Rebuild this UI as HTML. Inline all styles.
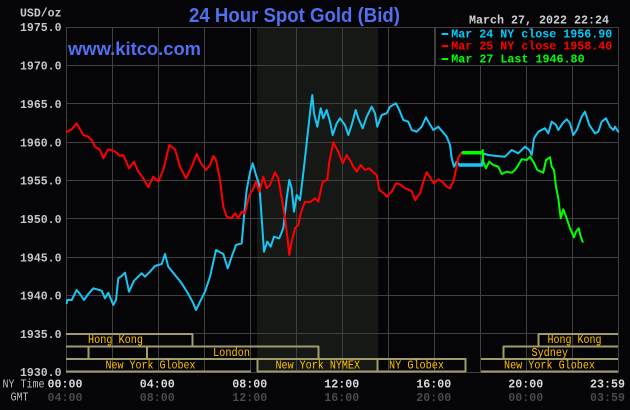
<!DOCTYPE html>
<html><head><meta charset="utf-8"><style>
html,body{margin:0;padding:0;background:#050508;}
svg{display:block;}
</style></head><body>
<svg width="630" height="410" viewBox="0 0 630 410" xmlns="http://www.w3.org/2000/svg">
<rect x="0" y="0" width="630" height="410" fill="#050508"/>
<!-- shaded NYMEX region -->
<rect x="257" y="27" width="121" height="345" fill="#151815"/>
<!-- grid -->
<g stroke="#404040" stroke-width="1" fill="none" shape-rendering="crispEdges">
<line x1="66" y1="27.5" x2="619" y2="27.5"/>
<line x1="66" y1="65.5" x2="619" y2="65.5"/>
<line x1="66" y1="103.5" x2="619" y2="103.5"/>
<line x1="66" y1="142.5" x2="619" y2="142.5"/>
<line x1="66" y1="180.5" x2="619" y2="180.5"/>
<line x1="66" y1="218.5" x2="619" y2="218.5"/>
<line x1="66" y1="257.5" x2="619" y2="257.5"/>
<line x1="66" y1="295.5" x2="619" y2="295.5"/>
<line x1="66" y1="333.5" x2="619" y2="333.5"/>
<line x1="66" y1="372.5" x2="619" y2="372.5"/>
<line x1="66.5" y1="27" x2="66.5" y2="373"/>
<line x1="112.5" y1="27" x2="112.5" y2="373"/>
<line x1="158.5" y1="27" x2="158.5" y2="373"/>
<line x1="204.5" y1="27" x2="204.5" y2="373"/>
<line x1="250.5" y1="27" x2="250.5" y2="373"/>
<line x1="296.5" y1="27" x2="296.5" y2="373"/>
<line x1="342.5" y1="27" x2="342.5" y2="373"/>
<line x1="388.5" y1="27" x2="388.5" y2="373"/>
<line x1="434.5" y1="27" x2="434.5" y2="373"/>
<line x1="480.5" y1="27" x2="480.5" y2="373"/>
<line x1="526.5" y1="27" x2="526.5" y2="373"/>
<line x1="572.5" y1="27" x2="572.5" y2="373"/>
<line x1="618.5" y1="27" x2="618.5" y2="373"/>
</g>
<!-- legend box -->
<rect x="435.5" y="27.5" width="183" height="38" fill="#050508" stroke="#404040" stroke-width="1" shape-rendering="crispEdges"/>
<!-- session bars -->
<g stroke="#a09c6c" stroke-width="2" fill="none" shape-rendering="crispEdges">
<line x1="66" y1="334" x2="193" y2="334"/>
<line x1="192.5" y1="334" x2="192.5" y2="346"/>
<line x1="66" y1="346.5" x2="319" y2="346.5"/>
<line x1="88.5" y1="346" x2="88.5" y2="359"/>
<line x1="147" y1="346" x2="147" y2="359"/>
<line x1="318.5" y1="346" x2="318.5" y2="359"/>
<line x1="66" y1="359" x2="466" y2="359"/>
<line x1="66" y1="371.5" x2="251" y2="371.5"/>
<line x1="257" y1="371.5" x2="466" y2="371.5"/>
<line x1="257.5" y1="358" x2="257.5" y2="372"/>
<line x1="377.5" y1="358" x2="377.5" y2="372"/>
<line x1="465.5" y1="358" x2="465.5" y2="372"/>
<line x1="538" y1="334" x2="618" y2="334"/>
<line x1="538.5" y1="334" x2="538.5" y2="346"/>
<line x1="503" y1="346.5" x2="618" y2="346.5"/>
<line x1="503.5" y1="346" x2="503.5" y2="359"/>
<line x1="481" y1="359" x2="618" y2="359"/>
<line x1="481" y1="371.5" x2="618" y2="371.5"/>
</g>
<g font-family="Liberation Mono, monospace" font-size="12" fill="#ffc000" lengthAdjust="spacingAndGlyphs">
<text x="88" y="343" textLength="55" lengthAdjust="spacingAndGlyphs">Hong Kong</text>
<text x="213" y="356" textLength="37" lengthAdjust="spacingAndGlyphs">London</text>
<text x="105.5" y="368.7" textLength="90" lengthAdjust="spacingAndGlyphs">New York Globex</text>
<text x="275.5" y="368.7" textLength="84.5" lengthAdjust="spacingAndGlyphs">New York NYMEX</text>
<text x="389" y="368.7" textLength="55" lengthAdjust="spacingAndGlyphs">NY Globex</text>
<text x="547.5" y="343" textLength="54" lengthAdjust="spacingAndGlyphs">Hong Kong</text>
<text x="531.5" y="356" textLength="36.5" lengthAdjust="spacingAndGlyphs">Sydney</text>
<text x="504" y="368.7" textLength="91" lengthAdjust="spacingAndGlyphs">New York Globex</text>
</g>
<!-- series -->
<g fill="none" stroke-width="2" stroke-linejoin="round" stroke-linecap="round">
<polyline stroke="#19c6f2" points="66.7,303.3 67.3,300 71.7,300 76.7,290 80,294 84,300 88.3,294 93.3,288.3 101.7,290.7 105,298.3 108.3,292.7 113.3,305 116,300 118.3,278.3 121.7,276 125,272.7 129,291.7 134,280.7 141.7,273.3 145,276.7 150,271.7 155,266 161.7,264 165,254 168.3,266.7 175,275 181.7,283.3 188.3,294 193.3,303.3 196,310 201.7,298.3 205,291.7 210,276.7 216,250 223.3,254 227.7,268.3 231.7,256.7 236,245 241.7,243.3 244,216.7 246.7,190 250,172.3 252.7,163.3 256,175 259.3,185 261.7,218.3 264,251.7 267.3,241.7 270.7,246.7 274,236.7 279.3,238.3 283.3,228.3 286.7,198.3 289.3,180 291.7,188.3 294,211.7 296.7,195 300,200 302.7,178.3 305.7,151.7 308.3,128.3 310.7,106.7 312.3,95 314,113.3 317.3,126.7 320.7,108.3 323.3,118.3 326.7,110 330,121.7 332.7,135 336.7,123.3 340,118.3 345,125 348.3,135 351.7,125 355.7,110 358.3,118.3 362.7,128.3 366.7,116.7 371.7,106.7 375,113.3 377.3,126.7 381.7,115 386.7,113.3 390,106.7 396,103.3 399.3,110 403.3,120 408.3,121.7 411.7,130 416.7,131.7 421.7,126.7 426,117.3 429.3,123.3 433.3,130 438.3,126.7 441.7,130.7 446.7,136.7 450,145 451.7,158.3 454,166.7 456.7,161.7 460,165 481.7,165 483.3,153.3 488.3,155 496.7,156 505,156.7 511.7,150 518.3,153.3 525,146.7 529.3,150 531.7,155 534,138.3 538.3,131.7 545,128.3 548.3,133.3 551.7,121.7 556,125 558.3,130 562.7,123.3 566.7,119.3 570,123.3 573.3,135 576.7,130 581.7,116.7 585,111.7 589.3,125 595,133.3 598.3,131.7 601.7,121.7 606,118.3 610,126.7 613.3,130 615,126.7 618.3,131.7"/>
<line x1="460" y1="165" x2="481.7" y2="165" stroke="#19c6f2" stroke-width="3.5"/>
<polyline stroke="#ff0000" points="66.7,131.7 71.7,129.3 76.7,123.3 80,129.3 83.3,135 88.3,136.7 91.7,140 95,146.7 100,150 103.3,158.3 108.3,149.3 113.3,150.7 116.7,152.7 120,156 123.3,155 129,168.3 134,161.7 138.3,171.7 142.7,177.3 148.3,187.3 153.3,176.7 158.3,181.7 163.3,170 169.3,145 175,149.3 180,166.7 186,178.3 191.7,166.7 196.7,154 200.7,162.7 206,170 210,165 213.3,156 216,160 220,180 223.3,206.7 226.7,216.7 231.7,218.3 235,213.3 238.3,218.3 241.7,211.7 245,213.3 249.3,195 252.7,190 256,181.7 259.3,191.7 263.3,176.7 266.7,188.3 270,185 275,172.3 278.3,178.3 281.7,198.3 285,218.3 286.7,231.7 289.3,255 291.7,241.7 295,228.3 298.3,225 300.7,213.3 305,201.7 310,202.3 315,198.3 318.3,201.7 322.7,181.7 327.3,180 329.3,161.7 333.3,142.3 338.3,151.7 342.7,163.3 346.7,155 350,160 353.3,166.7 356.7,171.7 360.7,165 365,170 369.3,168.3 373.3,172.3 376.7,175 379.3,190 384,193.3 386.7,196.7 391.7,191.7 396,183.3 400,184.3 405,188.3 411.7,191 415,200 420,193.3 423.3,181.7 426.7,172.3 431.7,180 434,183.3 438.3,179.3 443.3,182.7 446.7,186.7 450,188.3 453.3,181.7 456,170 458.3,157.3 461.7,152.7 463.3,152.7"/>
<polyline stroke="#00ff00" points="463.3,152.7 481.7,152.7 482.7,150 483.3,161.7 486,168.3 489.3,161.7 493.3,165 498.3,166.7 501.7,174 506.7,171.7 511.7,172.7 515,170 518.3,165 521.7,159.3 526.7,160 530,156.7 533.3,161.7 537.3,170 543.3,172.7 546,160 550,157.3 551.7,166.7 554,170 556,186.7 558.3,198.3 560.7,218.3 563.3,209.3 566.7,218.3 570,228.3 574,237.3 576,231.7 578.7,228.3 580.7,236.7 582.7,241.7"/>
<line x1="463.3" y1="152.7" x2="481.7" y2="152.7" stroke="#00ff00" stroke-width="3.5"/>
</g>
<!-- title & url -->
<text x="189" y="22" font-family="Liberation Sans, sans-serif" font-weight="bold" font-size="20" fill="#5070f0" textLength="211" lengthAdjust="spacingAndGlyphs">24 Hour Spot Gold (Bid)</text>
<text x="68" y="55" font-family="Liberation Sans, sans-serif" font-weight="bold" font-size="18" fill="#5070f0" textLength="133" lengthAdjust="spacingAndGlyphs">www.kitco.com</text>
<!-- legend -->
<g font-family="Liberation Mono, monospace" font-weight="bold" font-size="12">
<text x="469" y="23.3" fill="#d0d0d0" textLength="140" lengthAdjust="spacingAndGlyphs">March 27, 2022 22:24</text>
<rect x="441.7" y="33" width="6.6" height="2" fill="#00ccff"/>
<rect x="441.7" y="45" width="6.6" height="2" fill="#ff0000"/>
<rect x="441.7" y="58" width="6.6" height="2" fill="#00ff00"/>
<text x="451.3" y="37.5" fill="#00ccff" textLength="161" lengthAdjust="spacingAndGlyphs">Mar 24 NY close 1956.90</text>
<text x="451.3" y="49.5" fill="#ff0000" textLength="161" lengthAdjust="spacingAndGlyphs">Mar 25 NY close 1958.40</text>
<text x="451.3" y="62.7" fill="#00ff00" textLength="133.3" lengthAdjust="spacingAndGlyphs">Mar 27 Last 1946.80</text>
</g>
<!-- y axis labels -->
<g font-family="Liberation Mono, monospace" font-weight="bold" font-size="12" fill="#c8c8c8">
<text x="20" y="16.7" textLength="41.5" lengthAdjust="spacingAndGlyphs">USD/oz</text>
<text x="20" y="31" textLength="41.5" lengthAdjust="spacingAndGlyphs">1975.0</text>
<text x="20" y="69.6" textLength="41.5" lengthAdjust="spacingAndGlyphs">1970.0</text>
<text x="20" y="108" textLength="41.5" lengthAdjust="spacingAndGlyphs">1965.0</text>
<text x="20" y="146.3" textLength="41.5" lengthAdjust="spacingAndGlyphs">1960.0</text>
<text x="20" y="184.6" textLength="41.5" lengthAdjust="spacingAndGlyphs">1955.0</text>
<text x="20" y="223" textLength="41.5" lengthAdjust="spacingAndGlyphs">1950.0</text>
<text x="20" y="261.3" textLength="41.5" lengthAdjust="spacingAndGlyphs">1945.0</text>
<text x="20" y="299.6" textLength="41.5" lengthAdjust="spacingAndGlyphs">1940.0</text>
<text x="20" y="338" textLength="41.5" lengthAdjust="spacingAndGlyphs">1935.0</text>
<text x="20" y="376" textLength="41.5" lengthAdjust="spacingAndGlyphs">1930.0</text>
</g>
<!-- x axis labels -->
<g font-family="Liberation Mono, monospace" font-size="12">
<text x="2.5" y="387.7" fill="#c0c0c0" textLength="42" lengthAdjust="spacingAndGlyphs">NY Time</text>
<text x="10.5" y="400.5" fill="#c0c0c0" textLength="18" lengthAdjust="spacingAndGlyphs">GMT</text>
</g>
<g font-family="Liberation Mono, monospace" font-weight="bold" font-size="12" fill="#dcdcdc">
<text x="47.5" y="387.5" textLength="35" lengthAdjust="spacingAndGlyphs">00:00</text>
<text x="139.8" y="387.5" textLength="35" lengthAdjust="spacingAndGlyphs">04:00</text>
<text x="232.3" y="387.5" textLength="35" lengthAdjust="spacingAndGlyphs">08:00</text>
<text x="324.3" y="387.5" textLength="35" lengthAdjust="spacingAndGlyphs">12:00</text>
<text x="416.3" y="387.5" textLength="35" lengthAdjust="spacingAndGlyphs">16:00</text>
<text x="508.3" y="387.5" textLength="35" lengthAdjust="spacingAndGlyphs">20:00</text>
<text x="590" y="387.5" textLength="35" lengthAdjust="spacingAndGlyphs">23:59</text>
</g>
<g font-family="Liberation Mono, monospace" font-weight="bold" font-size="12" fill="#4a4a4a">
<text x="47.5" y="401" textLength="35" lengthAdjust="spacingAndGlyphs">04:00</text>
<text x="139.8" y="401" textLength="35" lengthAdjust="spacingAndGlyphs">08:00</text>
<text x="232.3" y="401" textLength="35" lengthAdjust="spacingAndGlyphs">12:00</text>
<text x="324.3" y="401" textLength="35" lengthAdjust="spacingAndGlyphs">16:00</text>
<text x="416.3" y="401" textLength="35" lengthAdjust="spacingAndGlyphs">20:00</text>
<text x="508.3" y="401" textLength="35" lengthAdjust="spacingAndGlyphs">00:00</text>
<text x="590" y="401" textLength="35" lengthAdjust="spacingAndGlyphs">03:59</text>
</g>
</svg>
</body></html>
